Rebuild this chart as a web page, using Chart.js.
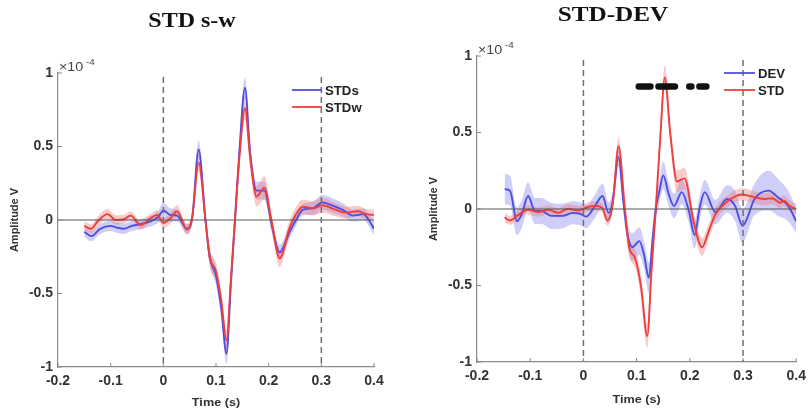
<!DOCTYPE html>
<html>
<head>
<meta charset="utf-8">
<script src="https://cdn.jsdelivr.net/npm/chart.js@4.4.0/dist/chart.umd.min.js"></script>
<style>
body{margin:0;background:#fff;width:812px;height:416px;overflow:hidden}
.box{position:absolute;top:0;width:406px;height:416px}
</style>
</head>
<body>
<div class="box" style="left:0"><canvas id="swChart" width="406" height="416"></canvas></div>
<div class="box" style="left:406px"><canvas id="devChart" width="406" height="416"></canvas></div>
<script>

// ---- STD s-w (amplitudes in units of 1e-4 V) ----
const tStdS=[-0.15,-0.137,-0.12,-0.1,-0.09,-0.075,-0.06,-0.045,-0.025,-0.01,0,0.013,0.026,0.045,0.055,0.067,0.08,0.088,0.1,0.11,0.12,0.128,0.136,0.145,0.155,0.165,0.177,0.192,0.205,0.221,0.24,0.252,0.265,0.284,0.302,0.32,0.34,0.36,0.38,0.39,0.4]
const stdS=[-0.08,-0.11,-0.06,-0.04,-0.05,-0.06,-0.04,-0.03,-0.01,0.02,0.065,0.035,0.03,-0.06,0.02,0.48,0,-0.25,-0.38,-0.6,-0.91,-0.45,0,0.5,0.9,0.45,0.2,0.2,-0.02,-0.22,-0.08,0,0.07,0.08,0.12,0.1,0.07,0.03,0.04,0,-0.06]
const semStdS=[0.035,0.035,0.035,0.035,0.035,0.035,0.035,0.035,0.035,0.04,0.05,0.045,0.04,0.035,0.04,0.06,0.05,0.06,0.06,0.07,0.07,0.06,0.05,0.06,0.07,0.06,0.06,0.06,0.05,0.05,0.045,0.04,0.04,0.045,0.05,0.05,0.045,0.04,0.04,0.04,0.045]

const tStdW=[-0.15,-0.137,-0.125,-0.106,-0.09,-0.075,-0.062,-0.043,-0.025,-0.012,0,0.013,0.026,0.045,0.055,0.067,0.08,0.088,0.1,0.11,0.12,0.128,0.136,0.145,0.155,0.165,0.177,0.192,0.205,0.221,0.24,0.252,0.265,0.284,0.302,0.327,0.346,0.37,0.385,0.4]
const stdW=[-0.04,-0.06,-0.01,0.04,0,0.005,0.03,-0.035,0.01,0.035,-0.02,0.01,0.06,-0.065,0.02,0.39,0,-0.25,-0.35,-0.55,-0.82,-0.42,0,0.45,0.76,0.42,0.16,0.22,0,-0.26,-0.05,0.04,0.09,0.08,0.1,0.07,0.05,0.06,0.04,0.035]
const semStdW=[0.03,0.03,0.032,0.035,0.032,0.03,0.03,0.03,0.03,0.032,0.035,0.035,0.04,0.035,0.04,0.06,0.05,0.06,0.06,0.065,0.07,0.06,0.05,0.07,0.08,0.07,0.07,0.08,0.06,0.06,0.05,0.05,0.05,0.05,0.05,0.045,0.04,0.035,0.035,0.035]

// ---- STD-DEV ----
const tDev=[-0.148,-0.138,-0.125,-0.116,-0.104,-0.091,-0.079,-0.06,-0.039,-0.02,-0.007,0.005,0.02,0.036,0.047,0.055,0.066,0.075,0.083,0.092,0.105,0.114,0.123,0.13,0.136,0.143,0.15,0.16,0.17,0.185,0.198,0.209,0.218,0.228,0.248,0.27,0.285,0.299,0.31,0.32,0.348,0.366,0.385,0.4]
const dev=[0.13,0.12,-0.08,-0.035,0.085,-0.013,-0.013,-0.045,-0.045,-0.025,-0.03,-0.05,0.01,0.085,-0.025,0.05,0.34,0.05,-0.17,-0.25,-0.21,-0.3,-0.45,-0.2,0,0.12,0.22,0.1,0.02,0.11,-0.01,-0.17,0,0.11,-0.02,0.065,0.02,-0.11,-0.04,0.055,0.12,0.075,0.02,-0.08]
const semDev=[0.1,0.095,0.09,0.09,0.09,0.085,0.085,0.085,0.08,0.075,0.075,0.075,0.075,0.08,0.07,0.06,0.06,0.06,0.08,0.09,0.09,0.09,0.1,0.09,0.08,0.08,0.09,0.08,0.08,0.08,0.08,0.09,0.08,0.08,0.08,0.09,0.1,0.11,0.1,0.1,0.13,0.12,0.1,0.08]

const tStd=[-0.148,-0.138,-0.125,-0.104,-0.085,-0.066,-0.047,-0.029,-0.01,0.008,0.024,0.036,0.045,0.055,0.066,0.078,0.086,0.097,0.108,0.12,0.128,0.136,0.145,0.153,0.163,0.176,0.19,0.207,0.223,0.235,0.248,0.267,0.298,0.323,0.341,0.355,0.37,0.376,0.388,0.4]
const std=[-0.055,-0.075,-0.045,-0.005,-0.02,-0.005,-0.025,0.002,-0.01,0.013,0.02,0.004,-0.075,0.03,0.41,0,-0.25,-0.32,-0.5,-0.83,-0.4,0,0.5,0.86,0.5,0.18,0.2,-0.08,-0.25,-0.15,-0.035,0.04,0.095,0.075,0.065,0.07,0.04,0.055,0.02,0]
const semStd=[0.03,0.03,0.03,0.03,0.03,0.03,0.03,0.03,0.03,0.03,0.03,0.03,0.035,0.04,0.06,0.05,0.06,0.06,0.07,0.08,0.07,0.05,0.07,0.08,0.07,0.07,0.07,0.06,0.06,0.05,0.045,0.04,0.04,0.04,0.04,0.04,0.035,0.035,0.035,0.035]

// significant time windows (STD vs DEV)
const sigStart=[0.104,0.141,0.199,0.218]
const sigEnd=[0.126,0.172,0.203,0.231]
const sigLevel=0.8

const xTicks=[-0.2,-0.1,0,0.1,0.2,0.3,0.4]
const yTicks=[-1,-0.5,0,0.5,1]
const stimLines=[0,0.3]

const BLUE="rgb(78,78,226)",BLUE_BAND="rgba(118,118,236,0.36)"
const RED="rgb(238,62,62)",RED_BAND="rgba(242,118,118,0.38)"
const FONT="Liberation Sans"

function pts(t,v,s,k){
return t.map((x,i)=>({x:x,y:v[i]+k*(s?s[i]:0)}))
}

function lineSet(t,v,color,order){
return {data:pts(t,v,null,0),borderColor:color,borderWidth:1.9,pointRadius:0,
cubicInterpolationMode:"monotone",fill:false,order:order}
}

function bandSets(t,v,s,color,order){
return [
{data:pts(t,v,s,1),borderWidth:0,pointRadius:0,cubicInterpolationMode:"monotone",backgroundColor:color,fill:"+1",order:order},
{data:pts(t,v,s,-1),borderWidth:0,pointRadius:0,cubicInterpolationMode:"monotone",fill:false,order:order+1}
]
}

function sigSet(){
let d=[]
sigStart.forEach((s,i)=>{
d.push({x:s,y:sigLevel},{x:sigEnd[i],y:sigLevel},{x:sigEnd[i],y:null})
})
return {data:d,borderColor:"#111",borderWidth:6.5,borderCapStyle:"round",pointRadius:0,tension:0,fill:false,order:-1}
}

function stretchText(ctx,txt,x,y,font,align,sx,color){
ctx.save()
ctx.font=font
ctx.fillStyle=color
ctx.textAlign=align
ctx.textBaseline="alphabetic"
ctx.translate(x,y)
ctx.scale(sx,1)
ctx.fillText(txt,0,0)
ctx.restore()
}

// axes decorations drawn on top of the curves: zero line, stimulus markers, inner ticks, texts
const decor={
id:"decor",
afterDatasetsDraw(chart,args,o){
const ctx=chart.ctx,a=chart.chartArea,x=chart.scales.x,y=chart.scales.y
ctx.save()
ctx.strokeStyle="#585858"
ctx.lineWidth=1.2
let y0=y.getPixelForValue(0)
ctx.beginPath();ctx.moveTo(a.left,y0);ctx.lineTo(a.right,y0);ctx.stroke()

ctx.strokeStyle="#707070"
ctx.lineWidth=1.5
ctx.setLineDash([6,4])
stimLines.forEach(v=>{
let px=x.getPixelForValue(v)
ctx.beginPath();ctx.moveTo(px,a.top+4);ctx.lineTo(px,a.bottom);ctx.stroke()
})
ctx.setLineDash([])

ctx.strokeStyle="#8a8a8a"
ctx.lineWidth=1
x.ticks.forEach(t=>{
let px=x.getPixelForValue(t.value)
ctx.beginPath();ctx.moveTo(px,a.bottom);ctx.lineTo(px,a.bottom-4);ctx.stroke()
})
y.ticks.forEach(t=>{
let py=y.getPixelForValue(t.value)
ctx.beginPath();ctx.moveTo(a.left,py);ctx.lineTo(a.left+4,py);ctx.stroke()
})

// legend
o.legend.forEach((it,i)=>{
let ly=o.legendY+i*o.legendGap
ctx.strokeStyle=it.color
ctx.lineWidth=1.8
ctx.beginPath();ctx.moveTo(o.legendX,ly);ctx.lineTo(o.legendX+o.legendLen,ly);ctx.stroke()
stretchText(ctx,it.text,o.legendX+o.legendLen+3,ly+5,"bold 12px "+FONT,"left",1.1,"#222")
})

// title
stretchText(ctx,o.title,o.titleX,o.titleY,"bold "+o.titleSize+"px 'Liberation Serif'","center",1.2,"#111")

// exponent
stretchText(ctx,"\u00d710",a.left+1,a.top-2,"13px "+FONT,"left",1.1,"#444")
stretchText(ctx,"-4",a.left+28,a.top-8,"9px "+FONT,"left",1.1,"#444")

// axis titles
stretchText(ctx,"Time (s)",(a.left+a.right)/2,o.xTitleY,"bold 11px "+FONT,"center",1.15,"#333")
ctx.save()
ctx.translate(o.yTitleX,(a.top+a.bottom)/2)
ctx.rotate(-Math.PI/2)
ctx.font="bold 11px "+FONT
ctx.fillStyle="#333"
ctx.textAlign="center"
ctx.textBaseline="middle"
ctx.fillText("Amplitude V",0,0)
ctx.restore()
ctx.restore()
}
}

function makeChart(id,datasets,box,deco){
return new Chart(document.getElementById(id),{
type:"line",
data:{datasets:datasets},
options:{
responsive:false,
animation:false,
events:[],
devicePixelRatio:1,
layout:{padding:{top:box.top,right:box.right,bottom:0,left:0}},
scales:{
x:{type:"linear",min:-0.2,max:0.4,
afterBuildTicks:s=>{s.ticks=xTicks.map(v=>({value:v}))},
afterFit:s=>{s.height=box.xh},
grid:{display:false,drawTicks:false},
border:{display:true,color:"#8a8a8a",width:1.2},
ticks:{autoSkip:false,maxRotation:0,padding:box.xpad,color:"#333",
font:{family:FONT,size:14,weight:"bold"},callback:v=>String(+v.toFixed(1))}},
y:{type:"linear",min:-1,max:1,
afterBuildTicks:s=>{s.ticks=yTicks.map(v=>({value:v}))},
afterFit:s=>{s.width=box.yw},
grid:{display:false,drawTicks:false},
border:{display:true,color:"#8a8a8a",width:1.2},
ticks:{padding:5,color:"#333",font:{family:FONT,size:14,weight:"bold"},
callback:v=>String(+v.toFixed(1))}}
},
plugins:{legend:{display:false},tooltip:{enabled:false},decor:deco}
},
plugins:[decor]
})
}

makeChart("swChart",
[lineSet(tStdW,stdW,RED,0),lineSet(tStdS,stdS,BLUE,1)]
.concat(bandSets(tStdW,stdW,semStdW,RED_BAND,2))
.concat(bandSets(tStdS,stdS,semStdS,BLUE_BAND,4)),
{top:73,right:32,xh:49,yw:58,xpad:6},
{title:"STD s-w",titleX:192,titleY:27,titleSize:20,
legend:[{text:"STDs",color:BLUE},{text:"STDw",color:RED}],
legendX:292,legendY:90,legendGap:17,legendLen:30,
xTitleY:406,yTitleX:15})

makeChart("devChart",
[lineSet(tStd,std,RED,0),lineSet(tDev,dev,BLUE,1),sigSet()]
.concat(bandSets(tStd,std,semStd,RED_BAND,2))
.concat(bandSets(tDev,dev,semDev,BLUE_BAND,4)),
{top:56,right:14,xh:54,yw:71,xpad:6},
{title:"STD-DEV",titleX:207,titleY:21,titleSize:21,
legend:[{text:"DEV",color:BLUE},{text:"STD",color:RED}],
legendX:318,legendY:73,legendGap:17,legendLen:31,
xTitleY:403,yTitleX:28})

</script>
</body>
</html>
